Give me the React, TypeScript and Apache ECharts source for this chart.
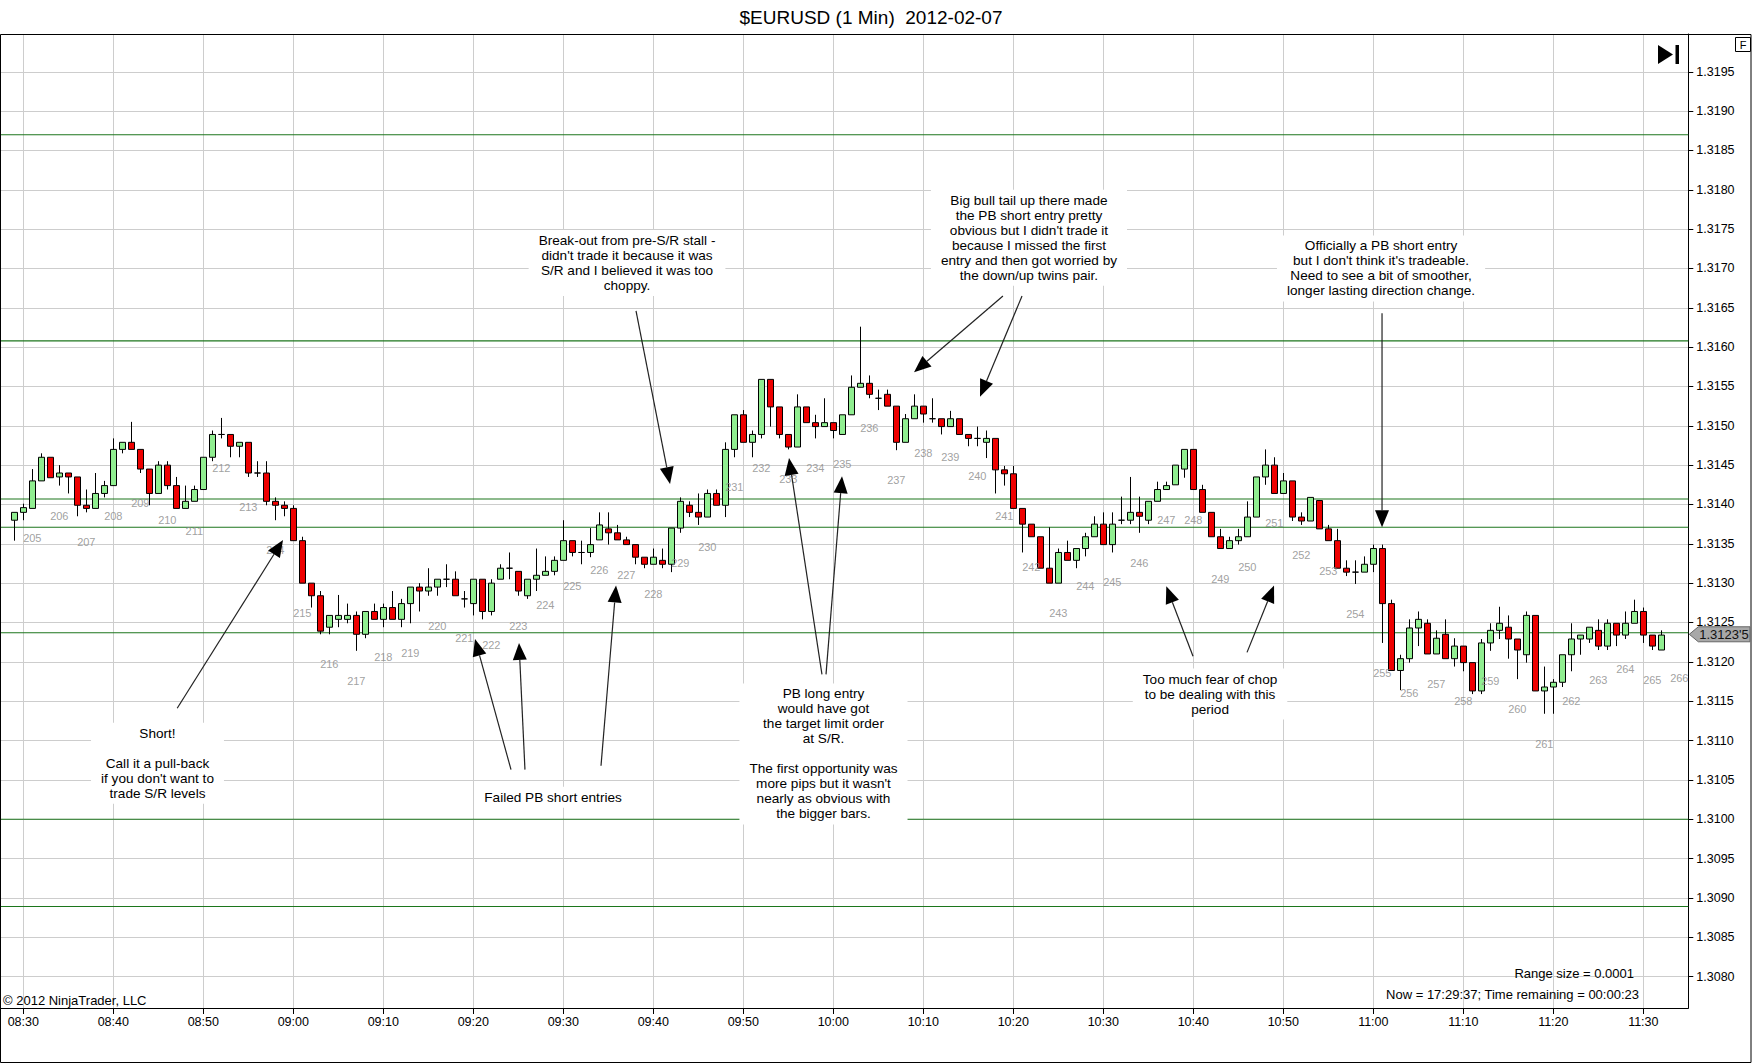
import React, { useEffect, useRef } from "react";
import * as echarts from "echarts";

// minute index of the first bar (0 = 08:30)
const FIRST_MINUTE = -1;

const opens = [
  1.31380, 1.31390, 1.31395, 1.31430, 1.31460, 1.31435, 1.31440, 1.31435, 1.31399, 1.31395,
  1.31414, 1.31424, 1.31470, 1.31479, 1.31470, 1.31445, 1.31414, 1.31450, 1.31424, 1.31395,
  1.31404, 1.31419, 1.31460, 1.31489, 1.31489, 1.31474, 1.31479, 1.31440, 1.31440, 1.31404,
  1.31399, 1.31395, 1.31354, 1.31300, 1.31284, 1.31244, 1.31254, 1.31254, 1.31259, 1.31235,
  1.31264, 1.31254, 1.31269, 1.31254, 1.31274, 1.31295, 1.31290, 1.31295, 1.31305, 1.31305,
  1.31280, 1.31274, 1.31305, 1.31264, 1.31305, 1.31319, 1.31315, 1.31284, 1.31305, 1.31310,
  1.31315, 1.31329, 1.31354, 1.31339, 1.31339, 1.31355, 1.31369, 1.31364, 1.31355, 1.31349,
  1.31333, 1.31324, 1.31329, 1.31324, 1.31370, 1.31399, 1.31390, 1.31384, 1.31414, 1.31399,
  1.31470, 1.31514, 1.31479, 1.31489, 1.31559, 1.31524, 1.31489, 1.31473, 1.31524, 1.31504,
  1.31499, 1.31504, 1.31489, 1.31514, 1.31549, 1.31554, 1.31535, 1.31540, 1.31525, 1.31479,
  1.31509, 1.31525, 1.31509, 1.31509, 1.31499, 1.31509, 1.31489, 1.31484, 1.31479, 1.31484,
  1.31444, 1.31439, 1.31395, 1.31375, 1.31359, 1.31319, 1.31300, 1.31339, 1.31329, 1.31344,
  1.31359, 1.31375, 1.31349, 1.31380, 1.31380, 1.31390, 1.31380, 1.31404, 1.31419, 1.31425,
  1.31445, 1.31470, 1.31419, 1.31390, 1.31359, 1.31344, 1.31354, 1.31359, 1.31384, 1.31435,
  1.31450, 1.31414, 1.31430, 1.31384, 1.31379, 1.31405, 1.31369, 1.31354, 1.31319, 1.31314,
  1.31314, 1.31324, 1.31344, 1.31274, 1.31189, 1.31204, 1.31243, 1.31249, 1.31210, 1.31235,
  1.31204, 1.31220, 1.31199, 1.31163, 1.31224, 1.31240, 1.31244, 1.31229, 1.31209, 1.31259,
  1.31163, 1.31168, 1.31174, 1.31209, 1.31229, 1.31229, 1.31240, 1.31220, 1.31249, 1.31234,
  1.31249, 1.31264, 1.31234, 1.31215,
];

const closes = [
  1.31390, 1.31396, 1.31430, 1.31460, 1.31434, 1.31440, 1.31435, 1.31399, 1.31395, 1.31414,
  1.31424, 1.31470, 1.31479, 1.31470, 1.31445, 1.31414, 1.31450, 1.31424, 1.31395, 1.31404,
  1.31419, 1.31460, 1.31489, 1.31489, 1.31474, 1.31479, 1.31440, 1.31440, 1.31404, 1.31399,
  1.31395, 1.31354, 1.31300, 1.31284, 1.31239, 1.31259, 1.31259, 1.31259, 1.31235, 1.31264,
  1.31254, 1.31269, 1.31254, 1.31274, 1.31295, 1.31290, 1.31295, 1.31305, 1.31305, 1.31284,
  1.31280, 1.31305, 1.31264, 1.31300, 1.31319, 1.31319, 1.31290, 1.31305, 1.31310, 1.31315,
  1.31329, 1.31354, 1.31339, 1.31339, 1.31349, 1.31374, 1.31364, 1.31355, 1.31349, 1.31333,
  1.31324, 1.31333, 1.31324, 1.31370, 1.31404, 1.31390, 1.31384, 1.31414, 1.31399, 1.31470,
  1.31514, 1.31479, 1.31489, 1.31559, 1.31524, 1.31489, 1.31473, 1.31524, 1.31504, 1.31499,
  1.31504, 1.31494, 1.31514, 1.31549, 1.31554, 1.31540, 1.31535, 1.31525, 1.31479, 1.31509,
  1.31525, 1.31515, 1.31509, 1.31499, 1.31509, 1.31489, 1.31484, 1.31484, 1.31484, 1.31444,
  1.31439, 1.31395, 1.31375, 1.31359, 1.31319, 1.31300, 1.31339, 1.31329, 1.31344, 1.31359,
  1.31375, 1.31349, 1.31375, 1.31380, 1.31390, 1.31385, 1.31404, 1.31419, 1.31424, 1.31450,
  1.31470, 1.31419, 1.31390, 1.31359, 1.31344, 1.31354, 1.31359, 1.31384, 1.31435, 1.31450,
  1.31414, 1.31430, 1.31384, 1.31379, 1.31409, 1.31369, 1.31354, 1.31319, 1.31314, 1.31314,
  1.31324, 1.31344, 1.31274, 1.31189, 1.31204, 1.31243, 1.31254, 1.31210, 1.31230, 1.31204,
  1.31220, 1.31199, 1.31163, 1.31224, 1.31240, 1.31249, 1.31229, 1.31215, 1.31259, 1.31163,
  1.31168, 1.31174, 1.31209, 1.31229, 1.31234, 1.31244, 1.31220, 1.31249, 1.31234, 1.31249,
  1.31264, 1.31234, 1.31220, 1.31234,
];

const lows = [
  1.31354, 1.31380, 1.31395, 1.31430, 1.31434, 1.31424, 1.31414, 1.31385, 1.31390, 1.31395,
  1.31409, 1.31424, 1.31465, 1.31470, 1.31440, 1.31399, 1.31414, 1.31419, 1.31395, 1.31395,
  1.31404, 1.31419, 1.31455, 1.31484, 1.31460, 1.31460, 1.31435, 1.31435, 1.31399, 1.31380,
  1.31385, 1.31354, 1.31300, 1.31269, 1.31235, 1.31235, 1.31244, 1.31249, 1.31214, 1.31230,
  1.31254, 1.31244, 1.31254, 1.31244, 1.31249, 1.31264, 1.31284, 1.31284, 1.31295, 1.31284,
  1.31269, 1.31259, 1.31254, 1.31259, 1.31305, 1.31305, 1.31284, 1.31280, 1.31290, 1.31310,
  1.31310, 1.31329, 1.31334, 1.31324, 1.31333, 1.31355, 1.31349, 1.31355, 1.31349, 1.31324,
  1.31319, 1.31324, 1.31319, 1.31314, 1.31364, 1.31384, 1.31374, 1.31384, 1.31399, 1.31384,
  1.31460, 1.31479, 1.31460, 1.31484, 1.31499, 1.31484, 1.31470, 1.31473, 1.31504, 1.31484,
  1.31499, 1.31484, 1.31489, 1.31514, 1.31549, 1.31535, 1.31520, 1.31525, 1.31469, 1.31479,
  1.31509, 1.31504, 1.31504, 1.31489, 1.31499, 1.31489, 1.31474, 1.31474, 1.31459, 1.31414,
  1.31424, 1.31395, 1.31339, 1.31359, 1.31319, 1.31300, 1.31300, 1.31329, 1.31319, 1.31334,
  1.31359, 1.31349, 1.31339, 1.31375, 1.31375, 1.31364, 1.31375, 1.31404, 1.31419, 1.31425,
  1.31434, 1.31419, 1.31390, 1.31359, 1.31344, 1.31344, 1.31349, 1.31359, 1.31384, 1.31425,
  1.31414, 1.31414, 1.31379, 1.31374, 1.31379, 1.31369, 1.31354, 1.31319, 1.31309, 1.31299,
  1.31314, 1.31314, 1.31224, 1.31189, 1.31164, 1.31199, 1.31220, 1.31210, 1.31210, 1.31204,
  1.31194, 1.31188, 1.31159, 1.31159, 1.31214, 1.31229, 1.31204, 1.31178, 1.31199, 1.31163,
  1.31134, 1.31134, 1.31168, 1.31188, 1.31209, 1.31224, 1.31215, 1.31215, 1.31220, 1.31229,
  1.31249, 1.31224, 1.31215, 1.31215,
];

const highs = [
  1.31390, 1.31401, 1.31445, 1.31465, 1.31460, 1.31450, 1.31440, 1.31435, 1.31419, 1.31440,
  1.31430, 1.31484, 1.31479, 1.31505, 1.31470, 1.31445, 1.31455, 1.31455, 1.31435, 1.31424,
  1.31424, 1.31460, 1.31494, 1.31510, 1.31489, 1.31479, 1.31479, 1.31455, 1.31455, 1.31409,
  1.31404, 1.31399, 1.31359, 1.31300, 1.31290, 1.31259, 1.31285, 1.31274, 1.31264, 1.31264,
  1.31274, 1.31274, 1.31290, 1.31280, 1.31295, 1.31300, 1.31319, 1.31305, 1.31324, 1.31315,
  1.31290, 1.31305, 1.31305, 1.31305, 1.31324, 1.31339, 1.31315, 1.31305, 1.31344, 1.31334,
  1.31334, 1.31380, 1.31354, 1.31354, 1.31370, 1.31390, 1.31390, 1.31374, 1.31359, 1.31349,
  1.31333, 1.31344, 1.31344, 1.31370, 1.31409, 1.31404, 1.31414, 1.31419, 1.31419, 1.31479,
  1.31514, 1.31520, 1.31494, 1.31559, 1.31559, 1.31524, 1.31489, 1.31540, 1.31524, 1.31514,
  1.31535, 1.31504, 1.31514, 1.31564, 1.31626, 1.31564, 1.31546, 1.31546, 1.31525, 1.31515,
  1.31540, 1.31525, 1.31535, 1.31509, 1.31519, 1.31509, 1.31489, 1.31499, 1.31494, 1.31484,
  1.31449, 1.31449, 1.31395, 1.31375, 1.31359, 1.31371, 1.31344, 1.31354, 1.31344, 1.31364,
  1.31385, 1.31390, 1.31390, 1.31410, 1.31435, 1.31410, 1.31404, 1.31429, 1.31429, 1.31450,
  1.31470, 1.31470, 1.31425, 1.31390, 1.31369, 1.31359, 1.31369, 1.31404, 1.31435, 1.31470,
  1.31460, 1.31440, 1.31430, 1.31390, 1.31409, 1.31405, 1.31374, 1.31369, 1.31329, 1.31329,
  1.31334, 1.31349, 1.31349, 1.31279, 1.31209, 1.31254, 1.31264, 1.31254, 1.31240, 1.31254,
  1.31230, 1.31220, 1.31199, 1.31229, 1.31249, 1.31270, 1.31259, 1.31229, 1.31264, 1.31259,
  1.31194, 1.31178, 1.31209, 1.31249, 1.31234, 1.31244, 1.31254, 1.31254, 1.31249, 1.31264,
  1.31279, 1.31269, 1.31234, 1.31240,
];

// bar numbering labels: every 3rd bar, starting at minute 1
const barNumbers = [
  205, 206, 207, 208, 209, 210, 211, 212, 213, 214, 215, 216, 217, 218, 219, 220,
  221, 222, 223, 224, 225, 226, 227, 228, 229, 230, 231, 232, 233, 234, 235, 236,
  237, 238, 239, 240, 241, 242, 243, 244, 245, 246, 247, 248, 249, 250, 251, 252,
  253, 254, 255, 256, 257, 258, 259, 260, 261, 262, 263, 264, 265, 266,
];
const BAR_NUMBER_FIRST_MINUTE = 1;
const BAR_NUMBER_STEP = 3;
const FUTURE_BAR_ANCHOR = 1.31218; // label of a bar not yet printed

const xTickMinutes = [0, 10, 20, 30, 40, 50, 60, 70, 80, 90, 100, 110, 120, 130, 140, 150, 160, 170, 180];
const xTickLabels = [
  "08:30", "08:40", "08:50", "09:00", "09:10", "09:20", "09:30", "09:40", "09:50", "10:00",
  "10:10", "10:20", "10:30", "10:40", "10:50", "11:00", "11:10", "11:20", "11:30",
];

const yTicks = [
  1.3080, 1.3085, 1.3090, 1.3095, 1.3100, 1.3105, 1.3110, 1.3115, 1.3120, 1.3125, 1.3130, 1.3135,
  1.3140, 1.3145, 1.3150, 1.3155, 1.3160, 1.3165, 1.3170, 1.3175, 1.3180, 1.3185, 1.3190, 1.3195,
];
const Y_MIN = 1.3076;
const Y_MAX = 1.31998;
const X_MIN = -2.5;
const X_MAX = 185;

const srLevels = [1.3187, 1.31608, 1.31407, 1.31371, 1.31237, 1.3100, 1.30889];

const lastPrice = 1.31235;
const lastPriceText = "1.3123'5";

const notes = [
  { text: "Break-out from pre-S/R stall -\ndidn't trade it because it was\nS/R and I believed it was too\nchoppy.", at: [67.08, 1.31707] },
  { text: "Big bull tail up there made\nthe PB short entry pretty\nobvious but I didn't trade it\nbecause I missed the first\nentry and then got worried by\nthe down/up twins pair.", at: [111.74, 1.31739] },
  { text: "Officially a PB short entry\nbut I don't think it's tradeable.\nNeed to see a bit of smoother,\nlonger lasting direction change.", at: [150.86, 1.317] },
  { text: "Short!\n\nCall it a pull-back\nif you don't want to\ntrade S/R levels", at: [14.91, 1.31071] },
  { text: "Failed PB short entries", at: [58.86, 1.31028] },
  { text: "PB long entry\nwould have got\nthe target limit order\nat S/R.\n\nThe first opportunity was\nmore pips but it wasn't\nnearly as obvious with\nthe bigger bars.", at: [88.91, 1.31083] },
  { text: "Too much fear of chop\nto be dealing with this\nperiod", at: [131.86, 1.31159] },
];

const arrows = [
  { from: [68.08, 1.31646], to: [71.86, 1.31426] },
  { from: [108.85, 1.31665], to: [98.97, 1.31568] },
  { from: [110.97, 1.31665], to: [106.3, 1.31537] },
  { from: [17.1, 1.31141], to: [28.86, 1.31355] },
  { from: [54.19, 1.31063], to: [50.19, 1.31229] },
  { from: [55.74, 1.31063], to: [55.08, 1.31224] },
  { from: [64.19, 1.31068], to: [65.86, 1.31297] },
  { from: [88.74, 1.31184], to: [85.08, 1.31459] },
  { from: [89.19, 1.31184], to: [90.97, 1.31436] },
  { from: [129.97, 1.31207], to: [127.0, 1.31296] },
  { from: [135.97, 1.31212], to: [138.97, 1.31297] },
  { from: [150.97, 1.31643], to: [150.97, 1.31371] },
];

const FONT = "'Liberation Sans', Arial, Helvetica, sans-serif";

export default function App() {
  const ref = useRef<HTMLDivElement>(null);

  useEffect(() => {
    const el = ref.current;
    if (!el) return;
    const chart = echarts.init(el, null, { renderer: "svg" });

    const candles = opens.map((o, i) => [FIRST_MINUTE + i, o, closes[i], lows[i], highs[i]]);
    const labelData = barNumbers.map((n, k) => {
      const minute = BAR_NUMBER_FIRST_MINUTE + BAR_NUMBER_STEP * k;
      const idx = minute - FIRST_MINUTE;
      const anchor = idx < lows.length ? lows[idx] : FUTURE_BAR_ANCHOR;
      return { name: String(n), value: [minute, anchor] };
    });

    const srSeries = srLevels.map((v) => ({
      type: "line",
      data: [
        [X_MIN, v],
        [X_MAX, v],
      ],
      symbol: "none",
      silent: true,
      lineStyle: { color: "#1c761c", width: 1.1, type: "solid" },
      z: 2,
    }));

    chart.setOption({
      animation: false,
      backgroundColor: "#ffffff",
      grid: { left: 0.8, top: 34, width: 1687.5, height: 974, containLabel: false },
      xAxis: {
        type: "value",
        min: X_MIN,
        max: X_MAX,
        axisLine: { show: true, onZero: false, lineStyle: { color: "#000", width: 1 } },
        axisTick: { show: true, customValues: xTickMinutes, length: 6, lineStyle: { color: "#000" } },
        axisLabel: {
          customValues: xTickMinutes,
          formatter: (v: number) => {
            const i = xTickMinutes.indexOf(Math.round(v));
            return i >= 0 ? xTickLabels[i] : "";
          },
          color: "#000",
          fontSize: 12.5,
          fontFamily: FONT,
          margin: 7,
        },
        splitLine: { show: true, lineStyle: { color: "#cdcdcd", width: 1 } },
      },
      yAxis: {
        type: "value",
        position: "right",
        min: Y_MIN,
        max: Y_MAX,
        axisLine: { show: true, onZero: false, lineStyle: { color: "#000", width: 1 } },
        axisTick: { show: true, customValues: yTicks, length: 5, lineStyle: { color: "#000" } },
        axisLabel: {
          customValues: yTicks,
          formatter: (v: number) => v.toFixed(4),
          color: "#000",
          fontSize: 12.5,
          fontFamily: FONT,
          margin: 8,
        },
        splitLine: { show: true, lineStyle: { color: "#cdcdcd", width: 1 } },
      },
      series: [
        ...srSeries,
        {
          type: "candlestick",
          data: candles,
          encode: { x: 0, y: [1, 2, 3, 4] },
          barWidth: 6,
          silent: true,
          itemStyle: {
            color: "#90EE90",
            color0: "#EE0000",
            borderColor: "#000000",
            borderColor0: "#000000",
            borderWidth: 1,
          },
          z: 3,
        },
        {
          type: "scatter",
          data: labelData,
          symbol: "circle",
          symbolSize: 1,
          silent: true,
          itemStyle: { color: "rgba(0,0,0,0)" },
          label: {
            show: true,
            position: "bottom",
            distance: 24,
            formatter: "{b}",
            color: "#888888",
            fontSize: 11,
            fontFamily: FONT,
          },
          z: 4,
        },
      ],
    });

    const px = (p: number[]) => chart.convertToPixel({ gridIndex: 0 }, p) as number[];

    const graphics: any[] = [];
    // frame
    graphics.push({
      type: "rect",
      shape: { x: 0.5, y: 34.5, width: 1750.5, height: 1028 },
      style: { fill: "none", stroke: "#000", lineWidth: 1 },
      z: 50,
      silent: true,
    });
    // title
    graphics.push({
      type: "text",
      x: 871,
      y: 17,
      style: { text: "$EURUSD (1 Min)  2012-02-07", font: `19px ${FONT}`, fill: "#000", align: "center", verticalAlign: "middle" },
      z: 50,
    });
    // footer texts
    graphics.push({
      type: "text",
      x: 3,
      y: 1000,
      style: { text: "\u00A9 2012 NinjaTrader, LLC", font: `13px ${FONT}`, fill: "#000", align: "left", verticalAlign: "middle" },
      z: 50,
    });
    graphics.push({
      type: "text",
      x: 1634,
      y: 973,
      style: { text: "Range size = 0.0001", font: `13px ${FONT}`, fill: "#000", align: "right", verticalAlign: "middle" },
      z: 50,
    });
    graphics.push({
      type: "text",
      x: 1639,
      y: 994,
      style: { text: "Now = 17:29:37; Time remaining = 00:00:23", font: `13px ${FONT}`, fill: "#000", align: "right", verticalAlign: "middle" },
      z: 50,
    });
    // F box
    graphics.push({
      type: "rect",
      shape: { x: 1735.5, y: 37.5, width: 15, height: 14 },
      style: { fill: "#fff", stroke: "#000", lineWidth: 1 },
      z: 50,
    });
    graphics.push({
      type: "text",
      x: 1743,
      y: 44.5,
      style: { text: "F", font: `11px ${FONT}`, fill: "#000", align: "center", verticalAlign: "middle" },
      z: 51,
    });
    // play-to-end icon
    graphics.push({
      type: "polygon",
      shape: { points: [[1658, 45], [1658, 64], [1673, 54.5]] },
      style: { fill: "#000" },
      z: 50,
    });
    graphics.push({
      type: "rect",
      shape: { x: 1675.5, y: 45, width: 3.5, height: 19 },
      style: { fill: "#000" },
      z: 50,
    });

    // notes
    notes.forEach((n) => {
      const [x, y] = px(n.at);
      graphics.push({
        type: "text",
        x,
        y,
        style: {
          text: n.text,
          font: `13.6px ${FONT}`,
          fill: "#000",
          align: "center",
          verticalAlign: "middle",
          lineHeight: 15,
          backgroundColor: "#ffffff",
          padding: [3, 10],
        },
        z: 60,
      });
    });

    // arrows
    arrows.forEach((a) => {
      const s = px(a.from);
      const t = px(a.to);
      const dx = t[0] - s[0];
      const dy = t[1] - s[1];
      const len = Math.sqrt(dx * dx + dy * dy) || 1;
      const ux = dx / len;
      const uy = dy / len;
      const L = 17;
      const W = 7;
      const bx = t[0] - ux * L;
      const by = t[1] - uy * L;
      const nx = -uy;
      const ny = ux;
      graphics.push({
        type: "line",
        shape: { x1: s[0], y1: s[1], x2: bx, y2: by },
        style: { stroke: "#222", lineWidth: 1.2 },
        z: 70,
      });
      graphics.push({
        type: "polygon",
        shape: { points: [[t[0], t[1]], [bx + nx * W, by + ny * W], [bx - nx * W, by - ny * W]] },
        style: { fill: "#000" },
        z: 70,
      });
    });

    // last price marker on the axis
    const [axisX, ly] = px([X_MAX, lastPrice]);
    graphics.push({
      type: "polygon",
      shape: {
        points: [
          [axisX + 1, ly],
          [axisX + 10, ly - 7.5],
          [1750, ly - 7.5],
          [1750, ly + 7.5],
          [axisX + 10, ly + 7.5],
        ],
      },
      style: { fill: "#a8a8a8", stroke: "#666", lineWidth: 1 },
      z: 80,
    });
    graphics.push({
      type: "text",
      x: 1724,
      y: ly,
      style: { text: lastPriceText, font: `13px ${FONT}`, fill: "#111", align: "center", verticalAlign: "middle" },
      z: 81,
    });

    chart.setOption({ graphic: graphics });

    return () => {
      chart.dispose();
    };
  }, []);

  return (
    <div
      ref={ref}
      style={{ position: "fixed", left: 0, top: 0, width: 1752, height: 1064, background: "#fff" }}
    />
  );
}
